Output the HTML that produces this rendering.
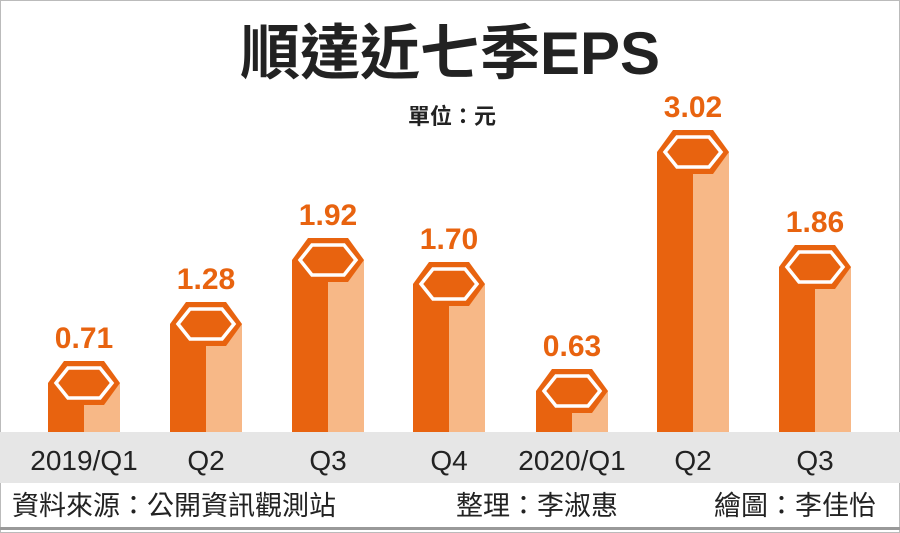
<!DOCTYPE html>
<html><head><meta charset="utf-8"><style>
html,body{margin:0;background:#fff;width:900px;height:533px;overflow:hidden}
svg{display:block}
text{font-family:"Liberation Sans","Noto Sans CJK TC",sans-serif}
</style></head><body>
<svg width="900" height="533" viewBox="0 0 900 533" xmlns="http://www.w3.org/2000/svg">
<rect width="900" height="533" fill="#fff"/>
<rect x="0" y="0" width="900" height="533" fill="none" stroke="#bbb" stroke-width="2"/>
<text x="450" y="74" font-size="60" font-weight="bold" text-anchor="middle" fill="#222">順達近七季EPS</text>
<text x="452" y="124" font-size="22" font-weight="bold" text-anchor="middle" fill="#222">單位：元</text>
<rect x="0" y="432" width="900" height="51" fill="#e6e6e6"/>
<defs>
<g id="bar">
<rect x="0" y="22" width="36" height="1000" fill="#e8630f"/>
<rect x="36" y="22" width="36" height="1000" fill="#f7b887"/>
<polygon points="0,22 16,0 56,0 72,22 56,44 16,44" fill="#e8630f"/>
<polygon points="8,22 20,7 52,7 64,22 52,37 20,37" fill="none" stroke="#fff" stroke-width="3.5"/>
</g>
<clipPath id="c"><rect x="0" y="0" width="900" height="432"/></clipPath>
</defs>
<g clip-path="url(#c)">
<use href="#bar" x="48" y="361"/>
<use href="#bar" x="170" y="302"/>
<use href="#bar" x="292" y="238"/>
<use href="#bar" x="413" y="262"/>
<use href="#bar" x="536" y="369"/>
<use href="#bar" x="657" y="130"/>
<use href="#bar" x="779" y="245"/>
</g>
<g font-size="30" font-weight="bold" fill="#e8630f" text-anchor="middle">
<text x="84" y="348">0.71</text>
<text x="206" y="289">1.28</text>
<text x="328" y="225">1.92</text>
<text x="449" y="249">1.70</text>
<text x="572" y="356">0.63</text>
<text x="693" y="117">3.02</text>
<text x="815" y="232">1.86</text>
</g>
<g font-size="28" fill="#222" text-anchor="middle">
<text x="84" y="470">2019/Q1</text>
<text x="206" y="470">Q2</text>
<text x="328" y="470">Q3</text>
<text x="449" y="470">Q4</text>
<text x="572" y="470">2020/Q1</text>
<text x="693" y="470">Q2</text>
<text x="815" y="470">Q3</text>
</g>
<g font-size="27" fill="#222">
<text x="12" y="515">資料來源：公開資訊觀測站</text>
<text x="456" y="515">整理：李淑惠</text>
<text x="714" y="515">繪圖：李佳怡</text>
</g>
<rect x="0" y="527" width="900" height="3" fill="#999"/>
</svg>
</body></html>
